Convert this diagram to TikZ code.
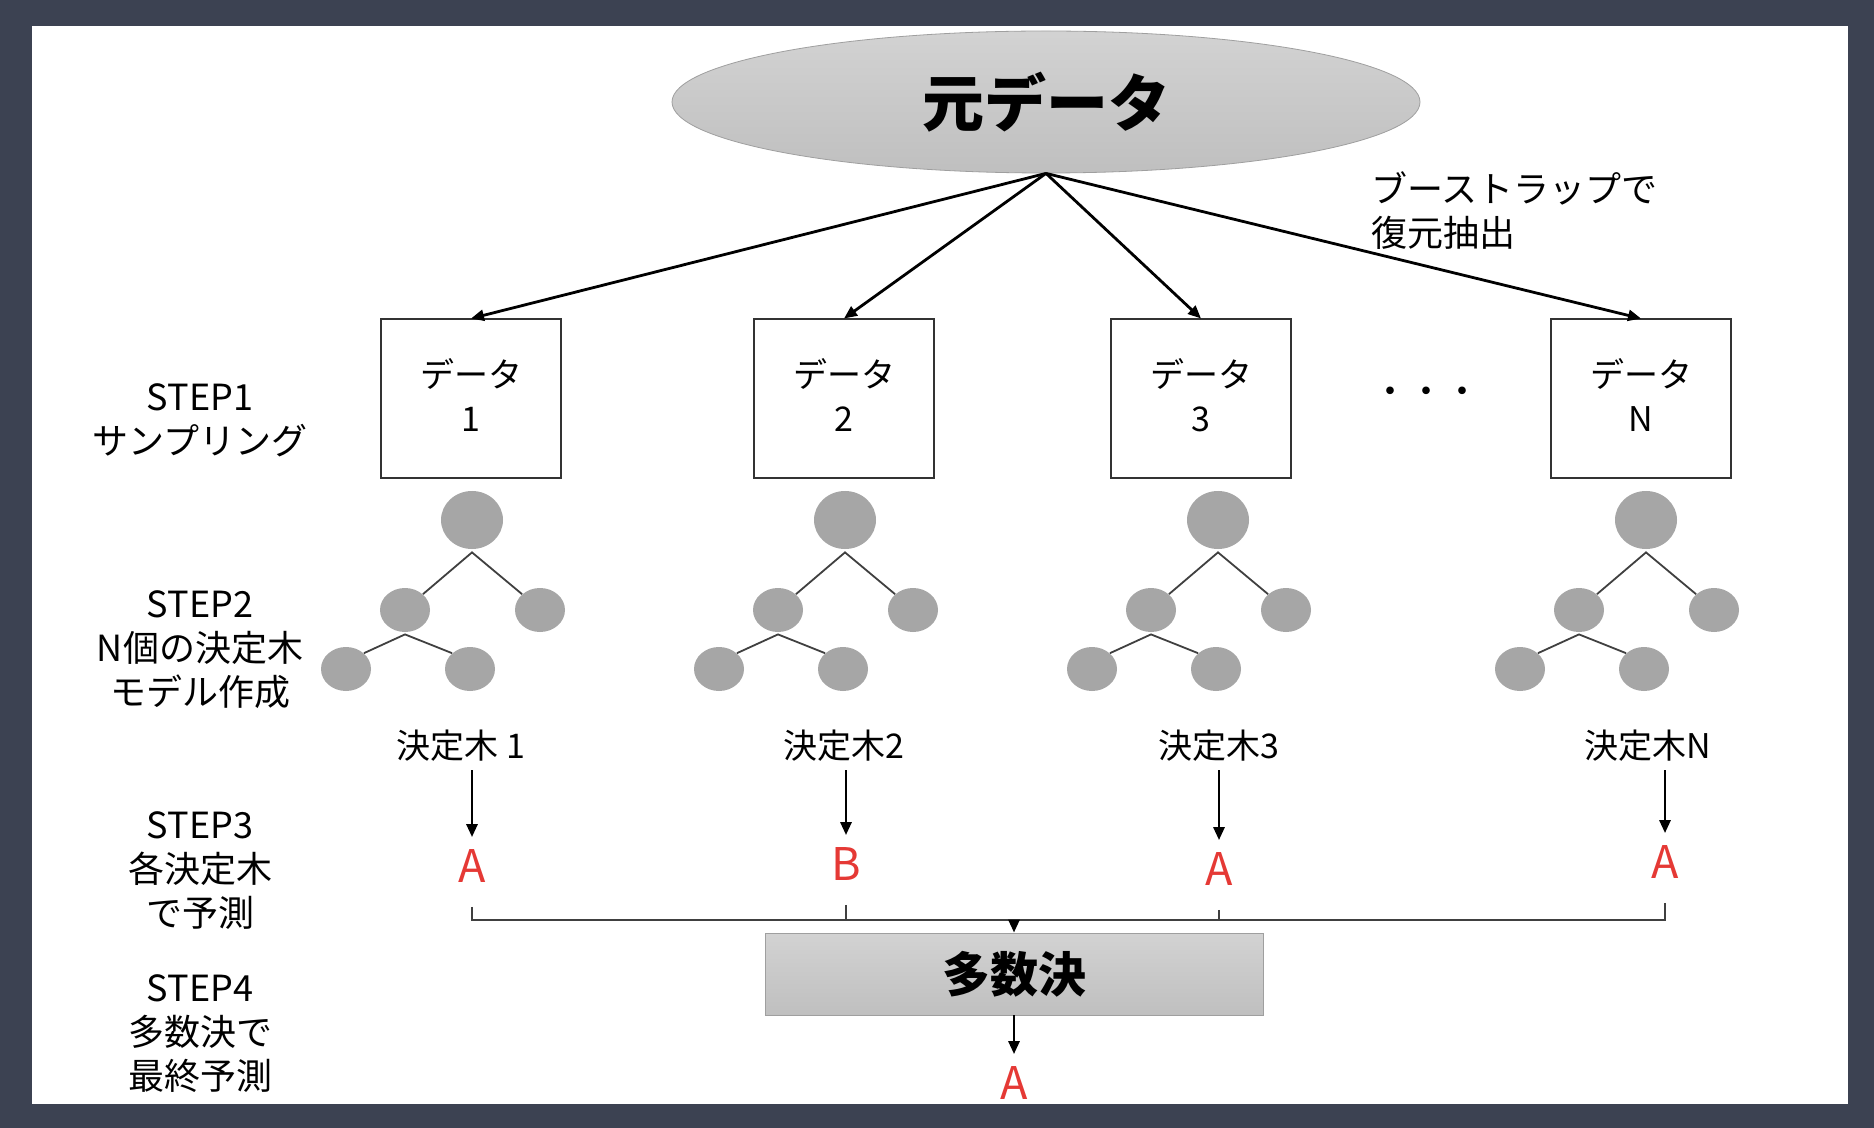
\documentclass[tikz,border=0pt]{standalone}
\usepackage{fontspec}
\setmainfont{Noto Sans CJK JP}
\usepackage{xcolor}
\usepackage{tikz}
\usetikzlibrary{shapes.geometric,arrows.meta,positioning}

\definecolor{slide}{HTML}{3C4252}
\definecolor{predred}{HTML}{E53935}

\begin{document}
\begin{tikzpicture}[
    x=0.5pt, y=-0.5pt,
    >={Triangle[length=6.5pt,width=5.5pt]},
    databox/.style={rectangle, draw=black!80, line width=1pt, minimum width=90pt, minimum height=79.5pt, align=center, font=\fontsize{17}{22}\selectfont},
    treenode/.style={ellipse, fill=gray!70, inner sep=0pt, minimum width=25pt, minimum height=22pt},
    treeroot/.style={treenode, minimum width=31pt, minimum height=29pt},
    branch/.style={draw=black!75, line width=0.9pt},
    steplabel/.style={align=center, font=\fontsize{18}{22}\selectfont},
    treelabel/.style={font=\fontsize{17}{20}\selectfont, inner sep=4pt},
    result/.style={text=predred, font=\fontsize{22.5}{26}\selectfont, inner sep=6pt},
    flow/.style={->, line width=1.4pt},
    gather/.style={draw=black!75, line width=0.9pt}
]

% Slide background
\useasboundingbox (0,0) rectangle (1874,1128);
\fill[slide] (0,0) rectangle (1874,1128);
\fill[white] (32,26) rectangle (1848,1104);

% Source data
\node[ellipse, draw=gray!75, top color=gray!35, bottom color=gray!50, minimum width=374pt, minimum height=71pt, font=\bfseries\fontsize{31}{36}\selectfont] (src) at (1046,102) {元データ};
\node[steplabel, align=left, anchor=west] (boot) at (1364,211) {ブーストラップで\\復元抽出};

% Bootstrap samples
\node[databox] (d1) at (471,399) {データ\\1\rule[-4pt]{0pt}{0pt}};
\node[databox] (d2) at (844,399) {データ\\2\rule[-4pt]{0pt}{0pt}};
\node[databox] (d3) at (1201,399) {データ\\3\rule[-4pt]{0pt}{0pt}};
\node[databox] (d4) at (1641,399) {データ\\N\rule[-4pt]{0pt}{0pt}};
\node[font=\fontsize{18}{22}\selectfont] (dots) at (1426,396) {・・・};
\foreach \i in {1,...,4}
    \draw[flow] (src.south) -- (d\i.north);

% Decision trees
\foreach \i/\x in {1/472,2/845,3/1218,4/1646} {
    \node[treeroot] (r\i) at (\x,520) {};
    \node[treenode] (l\i) at (\x-67,610) {};
    \node[treenode] (m\i) at (\x+68,610) {};
    \node[treenode] (ll\i) at (\x-126,669) {};
    \node[treenode] (lr\i) at (\x-2,669) {};
    \draw[branch] (l\i.north east) -- ([yshift=-1.5pt]r\i.south) -- (m\i.north west);
    \draw[branch] (ll\i.north east) -- ([yshift=-1pt]l\i.south) -- (lr\i.north west);
}
\node[treelabel] (k1) at (461,746) {決定木 1};
\node[treelabel] (k2) at (844,746) {決定木2};
\node[treelabel] (k3) at (1219,746) {決定木3};
\node[treelabel] (k4) at (1648,746) {決定木N};

% Predictions
\node[result] (p1) at (472,866) {A};
\node[result] (p2) at (846,864) {B};
\node[result] (p3) at (1219,869) {A};
\node[result] (p4) at (1665,862) {A};
\foreach \i in {1,...,4}
    \draw[flow] (p\i |- k\i.south) -- (p\i.north);

% Majority vote
\node[rectangle, draw=gray!75, top color=gray!35, bottom color=gray!50, minimum width=249pt, minimum height=41pt, font=\bfseries\fontsize{24}{28}\selectfont] (vote) at (1014,974) {多数決};
\coordinate (merge) at (1014,920);
\foreach \i in {1,...,4}
    \draw[gather, shorten <=6pt] (p\i.south) |- (merge);
\draw[flow] (merge) -- (vote.north);
\node[result] (pf) at (1014,1083) {A};
\draw[flow] (vote.south) -- (pf.north);

% Step labels
\node[steplabel] (s1) at (200,420) {STEP1\\サンプリング};
\node[steplabel] (s2) at (200,650) {STEP2\\N個の決定木\\モデル作成};
\node[steplabel] (s3) at (200,871) {STEP3\\各決定木\\で予測};
\node[steplabel] (s4) at (200,1034) {STEP4\\多数決で\\最終予測};

\end{tikzpicture}
\end{document}
